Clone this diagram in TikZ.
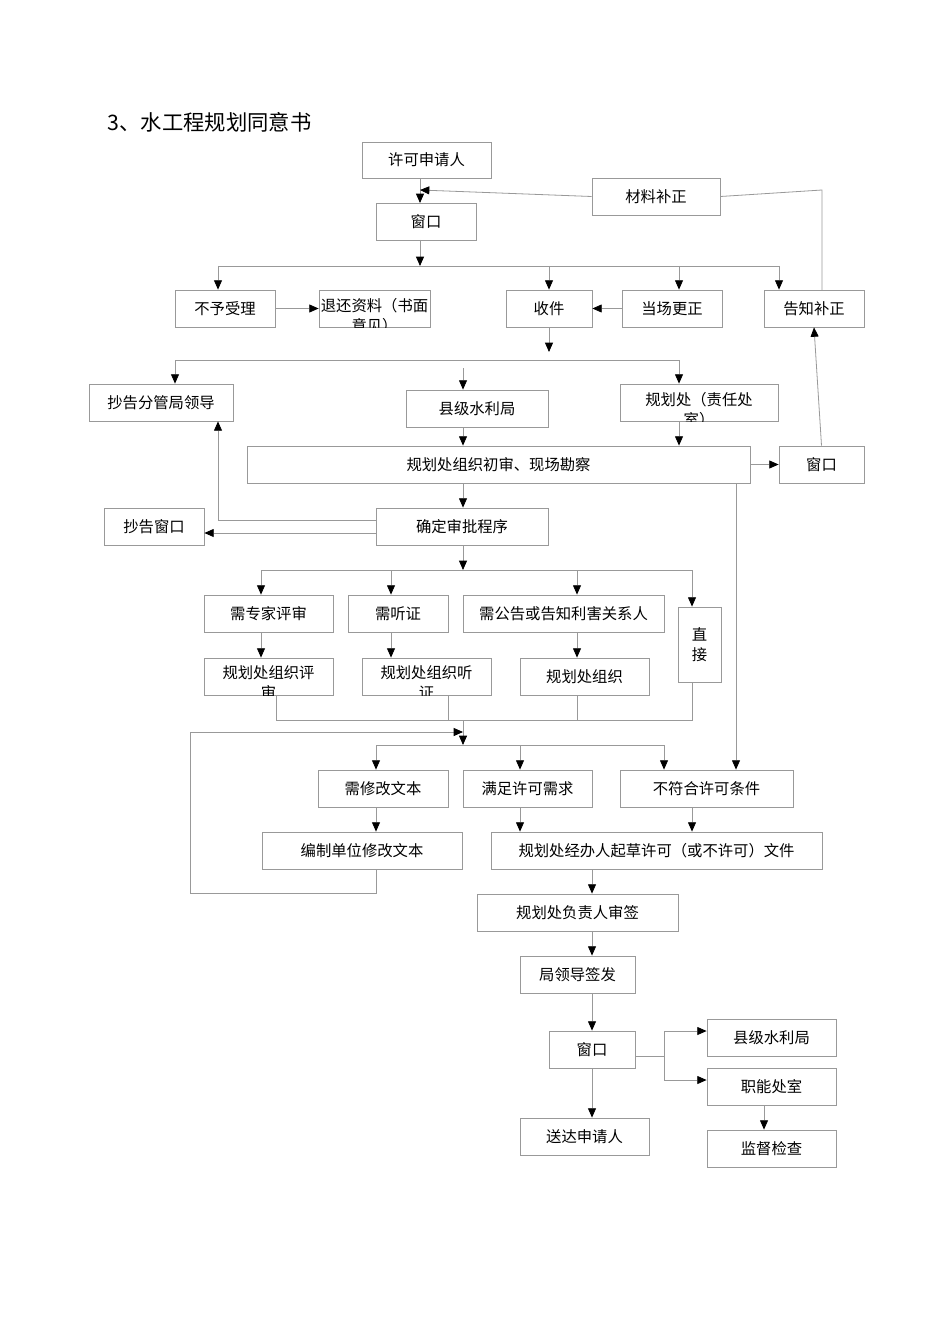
\documentclass[tikz,border=0pt]{standalone}
\usepackage{fontspec}
\setmainfont{Noto Sans CJK SC}
\usetikzlibrary{arrows.meta}
\tikzset{
 bx/.style={draw=black!40,line width=0.6pt,inner sep=0pt,font=\fontsize{11.5}{15}\selectfont,align=center},
 ln/.style={draw=black!40,line width=0.6pt},
 ar/.style={ln,-{Triangle[color=black,length=7pt,width=6pt]}}
}
\newcommand\bx[6]{\node[bx,minimum width={(#4-#2)*0.75pt},minimum height={(#5-#3)*0.75pt}] (#1) at ({(#2+#4)/2},{(#3+#5)/2}) {#6};}
\newcommand\bxc[7]{\node[bx,minimum width={(#4-#2)*0.75pt},minimum height={(#5-#3)*0.75pt}] (#1) at ({(#2+#4)/2},{(#3+#5)/2}) {};
 \begin{scope}\clip (#1.south west) rectangle (#1.north east);
 \node[bx,draw=none,anchor=north] at ([yshift=-6pt]#1.north) {#6\\#7};\end{scope}}
\begin{document}
\begin{tikzpicture}[x=0.75pt,y=-0.75pt]
\useasboundingbox[fill=white] (0,0) rectangle (950,1344);
\node[anchor=west,font=\fontsize{16}{18}\selectfont] (title) at (103,122) {3、水工程规划同意书};
\bx{sq}{362}{142}{491}{178}{许可申请人}
\bx{cl}{592}{178}{720}{215}{材料补正}
\bx{ck}{376}{203}{476}{240}{窗口}
\bx{by}{175}{290}{275}{327}{不予受理}
\bxc{th}{319}{290}{430}{327}{退还资料（书面}{意见）}
\bx{sj}{506}{290}{592}{327}{收件}
\bx{dc}{622}{290}{722}{327}{当场更正}
\bx{gz}{764}{290}{864}{327}{告知补正}
\bx{cgl}{89}{384}{233}{421}{抄告分管局领导}
\bx{xj}{406}{390}{548}{427}{县级水利局}
\bxc{gh}{620}{384}{778}{421}{规划处（责任处}{室）}
\bx{cs}{247}{446}{750}{483}{规划处组织初审、现场勘察}
\bx{ck2}{779}{446}{864}{483}{窗口}
\bx{cgc}{104}{508}{204}{545}{抄告窗口}
\bx{qd}{376}{508}{548}{545}{确定审批程序}
\bx{zj}{204}{595}{333}{632}{需专家评审}
\bx{tz}{348}{595}{448}{632}{需听证}
\bx{gg}{463}{595}{664}{632}{需公告或告知利害关系人}
\bx{zjj}{678}{607}{721}{682}{直\\接}
\bxc{ps}{204}{658}{333}{695}{规划处组织评}{审}
\bxc{tzz}{362}{658}{491}{695}{规划处组织听}{证}
\bx{zz}{520}{658}{649}{695}{规划处组织}
\bx{xg}{318}{770}{448}{807}{需修改文本}
\bx{mz}{463}{770}{592}{807}{满足许可需求}
\bx{bf}{620}{770}{793}{807}{不符合许可条件}
\bx{bz}{262}{832}{462}{869}{编制单位修改文本}
\bx{qc}{491}{832}{822}{869}{规划处经办人起草许可（或不许可）文件}
\bx{fz}{477}{894}{678}{931}{规划处负责人审签}
\bx{jl}{520}{956}{635}{993}{局领导签发}
\bx{ck3}{549}{1031}{635}{1068}{窗口}
\bx{xj2}{707}{1019}{836}{1056}{县级水利局}
\bx{zn}{707}{1068}{836}{1105}{职能处室}
\bx{sd}{520}{1118}{649}{1155}{送达申请人}
\bx{jd}{707}{1130}{836}{1167}{监督检查}
% top
\draw[ar] (sq.south -| 420,0) -- (420,203);
\draw[ar] (cl.west) -- (420,190);
\draw[ln] (cl.east) -- (822,190) -- (822,290);
\draw[ar] (420,240) -- (420,266);
\draw[ln] (218,266) -- (779,266);
\draw[ar] (218,266) -- (by.north -| 218,0);
\draw[ar] (549,266) -- (sj.north);
\draw[ar] (679,266) -- (dc.north -| 679,0);
\draw[ar] (779,266) -- (gz.north -| 779,0);
\draw[ar] (by.east) -- (th.west);
\draw[ar] (dc.west) -- (sj.east);
\draw[ar] (sj.south) -- (549,352);
\draw[ln] (175,360) -- (679,360);
\draw[ar] (175,360) -- (cgl.north -| 175,0);
\draw[ar] (679,360) -- (gh.north -| 679,0);
\draw[ar] (463,368) -- (xj.north -| 463,0);
\draw[ar] (xj.south -| 463,0) -- (cs.north -| 463,0);
\draw[ar] (gh.south -| 679,0) -- (cs.north -| 679,0);
\draw[ar] (cs.east |- ck2.west) -- (ck2.west);
\draw[ar] (ck2.north) -- (gz.south);
\draw[ar] (cs.south -| 463,0) -- (qd.north -| 463,0);
\draw[ar] (736,483) -- (bf.north -| 736,0);
\draw[ar] (qd.west |- 0,520) -- (218,520) -- (cgl.south -| 218,0);
\draw[ar] (qd.west |- 0,533) -- (cgc.east |- 0,533);
% procedures
\draw[ar] (qd.south -| 463,0) -- (463,570);
\draw[ln] (261,570) -- (692,570);
\draw[ar] (261,570) -- (zj.north -| 261,0);
\draw[ar] (391,570) -- (tz.north -| 391,0);
\draw[ar] (577,570) -- (gg.north -| 577,0);
\draw[ar] (692,570) -- (zjj.north -| 692,0);
\draw[ar] (zj.south -| 261,0) -- (ps.north -| 261,0);
\draw[ar] (tz.south -| 391,0) -- (tzz.north -| 391,0);
\draw[ar] (gg.south -| 577,0) -- (zz.north -| 577,0);
\draw[ln] (ps.south -| 276,0) -- (276,720) -- (692,720) -- (zjj.south -| 692,0);
\draw[ln] (tzz.south -| 448,0) -- (448,720);
\draw[ln] (zz.south -| 577,0) -- (577,720);
\draw[ar] (463,720) -- (463,745);
\draw[ln] (376,745) -- (664,745);
\draw[ar] (376,745) -- (xg.north -| 376,0);
\draw[ar] (520,745) -- (mz.north -| 520,0);
\draw[ar] (664,745) -- (bf.north -| 664,0);
\draw[ar] (xg.south -| 376,0) -- (bz.north -| 376,0);
\draw[ar] (bz.south -| 376,0) -- (376,893) -- (190,893) -- (190,732) -- (463,732);
\draw[ar] (mz.south -| 520,0) -- (qc.north -| 520,0);
\draw[ar] (bf.south -| 692,0) -- (qc.north -| 692,0);
\draw[ar] (qc.south -| 592,0) -- (fz.north -| 592,0);
\draw[ar] (fz.south -| 592,0) -- (jl.north -| 592,0);
\draw[ar] (jl.south -| 592,0) -- (ck3.north -| 592,0);
\draw[ar] (ck3.south -| 592,0) -- (sd.north -| 592,0);
\draw[ln] (ck3.east |- 0,1056) -- (664,1056);
\draw[ln] (664,1031) -- (664,1080);
\draw[ar] (664,1031) -- (xj2.west |- 0,1031);
\draw[ar] (664,1080) -- (zn.west |- 0,1080);
\draw[ar] (zn.south -| 764,0) -- (jd.north -| 764,0);
\end{tikzpicture}
\end{document}
